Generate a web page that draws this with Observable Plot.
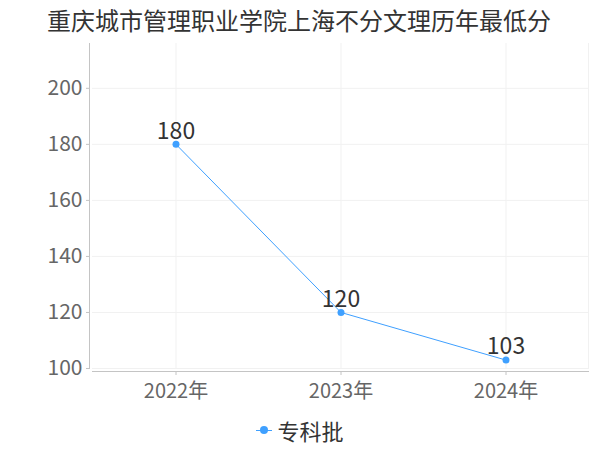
<!DOCTYPE html>
<html><head><meta charset="utf-8">
<script src="https://cdn.jsdelivr.net/npm/d3@7"></script>
<script src="https://cdn.jsdelivr.net/npm/@observablehq/plot@0.6"></script>
<style>
body{margin:0;background:#fff;font-family:"Noto Sans CJK SC",sans-serif;}
#wrap{position:relative;width:600px;height:450px;overflow:hidden;}
#title{position:absolute;left:47px;top:3px;font-size:24px;color:#333;line-height:34px;white-space:nowrap;}
#chart{position:absolute;left:0;top:0;}
#legend{position:absolute;left:0;top:414px;width:600px;display:flex;justify-content:center;align-items:center;font-size:22px;color:#333;line-height:32px;}
#legend .mk{position:relative;width:16px;height:10px;margin-right:5px;}
#legend .mk .ln{position:absolute;left:0;right:0;top:4.5px;height:1px;}
#legend .mk .dt{position:absolute;left:4px;top:1px;width:8px;height:8px;border-radius:50%;}
</style></head>
<body>
<div id="wrap">
  <div id="chart"></div>
  <div id="title"></div>
  <div id="legend"><span class="mk"><span class="ln"></span><span class="dt"></span></span><span id="lgtext"></span></div>
</div>
<script>
const titleText = "重庆城市管理职业学院上海不分文理历年最低分";
const years = ["2022年", "2023年", "2024年"];
const scores = [180, 120, 103];
const seriesName = "专科批";
const yTicks = [100, 120, 140, 160, 180, 200];
const yDomain = [100, 216];
const lineColor = "#3fa0ff";

const data = years.map((y, i) => ({year: y, score: scores[i]}));

document.getElementById("title").textContent = titleText;
document.getElementById("lgtext").textContent = seriesName;
document.querySelector("#legend .ln").style.background = lineColor;
document.querySelector("#legend .dt").style.background = lineColor;

const font = '"Noto Sans CJK SC", sans-serif';
const gridColor = "#f1f1f1";
const axisColor = "#c4c4c4";

const chart = Plot.plot({
  width: 600,
  height: 450,
  marginLeft: 92,
  marginRight: 12,
  marginTop: 43,
  marginBottom: 82,
  style: {fontFamily: font, background: "transparent", overflow: "visible"},
  x: {type: "band", domain: years, padding: 0, label: null},
  y: {domain: yDomain, label: null},
  marks: [
    Plot.gridY(yTicks, {stroke: gridColor, strokeOpacity: 1}),
    Plot.gridX(years, {stroke: gridColor, strokeOpacity: 1}),
    Plot.frame({anchor: "right", stroke: gridColor}),
    Plot.frame({anchor: "left", stroke: axisColor, dx: -3}),
    Plot.frame({anchor: "bottom", stroke: axisColor, dy: 3}),
    Plot.axisY(yTicks, {tickSize: 3, dx: -3, tickPadding: 4, fontSize: 21, fill: "#666", stroke: axisColor, label: null}),
    Plot.axisX({tickSize: 4, dy: 3, tickPadding: 8, fontSize: 20, fill: "#666", stroke: axisColor, label: null}),
    Plot.lineY(data, {x: "year", y: "score", stroke: lineColor, strokeWidth: 1}),
    Plot.dot(data, {x: "year", y: "score", r: 3.5, fill: lineColor, stroke: null}),
    Plot.text(data, {x: "year", y: "score", text: d => String(d.score), dy: -13, fontSize: 23, fill: "#333"})
  ]
});
document.getElementById("chart").appendChild(chart);
</script>
</body></html>
